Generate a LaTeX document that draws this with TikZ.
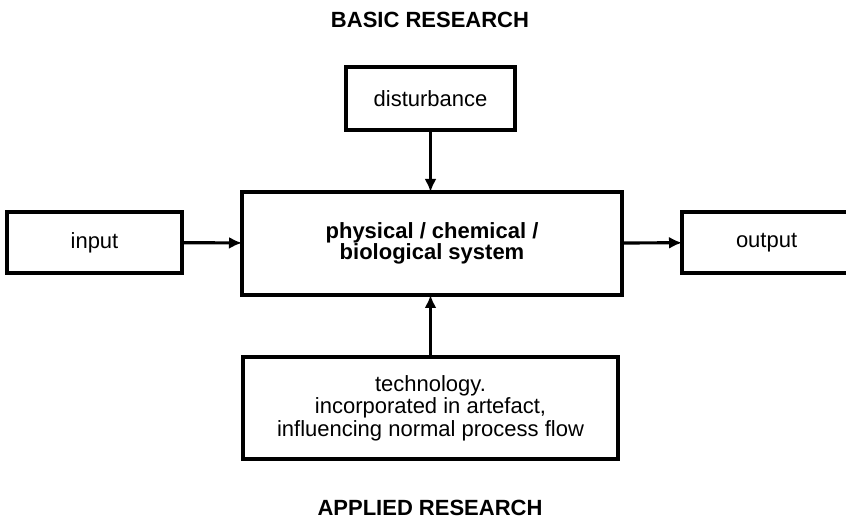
\documentclass[tikz,border=0pt]{standalone}
\usepackage{fontspec}
\setmainfont{Liberation Sans}
\usetikzlibrary{arrows.meta}
\tikzset{
  block/.style={draw, line width=1.7pt, align=center, inner sep=0pt, outer sep=0pt, font=\fontsize{11}{11.2}\selectfont},
  flow/.style={line width=1.6pt, -{Latex[length=6.5pt,width=6pt]}},
  title/.style={font=\fontsize{11}{13}\selectfont\bfseries}
}
\begin{document}
\begin{tikzpicture}[x=0.5pt, y=-0.5pt]
        \useasboundingbox (0,0) rectangle (846,522);
        \clip (0,0) rectangle (846,522);
        % Titles
        \node[title] (basic) at (430,20) {BASIC RESEARCH};
        \node[title] (applied) at (430,508) {APPLIED RESEARCH};
        % Blocks
        \node[block, minimum width=84.5pt, minimum height=31.5pt] (dist) at (430.5,98.5) {disturbance};
        \node[block, minimum width=190pt, minimum height=51.5pt, font=\fontsize{11}{10.6}\selectfont\bfseries] (sys) at (432,243.5) {physical / chemical /\\biological system};
        \node[block, minimum width=87.5pt, minimum height=30.5pt] (in) at (94.5,242.5) {input};
        \node[block, minimum width=100pt, minimum height=30.5pt, text width=62pt, align=left] (out) at (782,242.5) {\hspace*{8pt}output};
        \node[block, minimum width=187.5pt, minimum height=51pt] (tech) at (430.5,408) {technology.\\incorporated in artefact,\\influencing normal process flow};
        % Connectors
        \draw[flow] (dist) -- (dist |- sys.north);
        \draw[flow] (in) -- (sys);
        \draw[flow] (sys) -- (out);
        \draw[flow] (tech) -- (tech |- sys.south);
    \end{tikzpicture}
\end{document}
